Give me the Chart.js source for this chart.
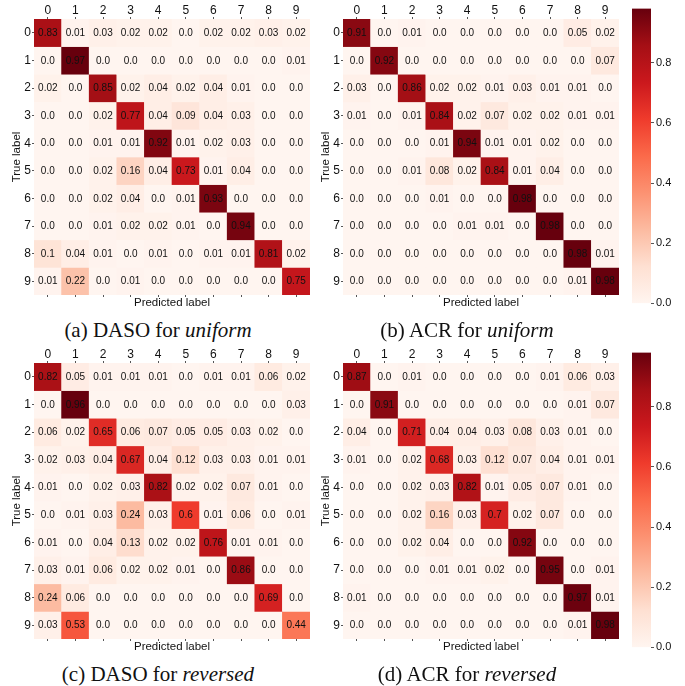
<!DOCTYPE html>
<html>
<head>
<meta charset="utf-8">
<script src="https://cdn.jsdelivr.net/npm/chart.js@4.4.0/dist/chart.umd.min.js"></script>
<style>
    body { margin: 0; background: #fff; }
    #page { position: relative; width: 685px; height: 686px; overflow: hidden; }
    canvas { position: absolute; }
    .caption {
        position: absolute;
        width: 320px;
        text-align: center;
        font-family: "Liberation Serif", "Times New Roman", serif;
        font-size: 21px;
        line-height: 24px;
        color: #111;
        white-space: nowrap;
    }
</style>
</head>
<body>
<div id="page">
    <canvas id="chart-a" width="312" height="310" style="left:0px;top:0px;width:312px;height:310px"></canvas>
    <canvas id="chart-b" width="312" height="310" style="left:309px;top:0px;width:312px;height:310px"></canvas>
    <canvas id="bar-top" width="65" height="312" style="left:620px;top:0px;width:65px;height:312px"></canvas>
    <canvas id="chart-c" width="312" height="310" style="left:0px;top:344px;width:312px;height:310px"></canvas>
    <canvas id="chart-d" width="312" height="310" style="left:309px;top:344px;width:312px;height:310px"></canvas>
    <canvas id="bar-bottom" width="65" height="312" style="left:620px;top:344px;width:65px;height:312px"></canvas>

    <div class="caption" style="left:-2px;top:318px">(a) DASO for <i>uniform</i></div>
    <div class="caption" style="left:307px;top:318px">(b) ACR for <i>uniform</i></div>
    <div class="caption" style="left:-2px;top:662px">(c) DASO for <i>reversed</i></div>
    <div class="caption" style="left:307px;top:662px">(d) ACR for <i>reversed</i></div>
</div>

<script>
// --- data --- //
const classes = ["0", "1", "2", "3", "4", "5", "6", "7", "8", "9"];
const colorbarTicks = [0.0, 0.2, 0.4, 0.6, 0.8];

// rows = true label, columns = predicted label
const dasoUniform = [
    [0.83, 0.01, 0.03, 0.02, 0.02, 0.0, 0.02, 0.02, 0.03, 0.02],
    [0.0, 0.97, 0.0, 0.0, 0.0, 0.0, 0.0, 0.0, 0.0, 0.01],
    [0.02, 0.0, 0.85, 0.02, 0.04, 0.02, 0.04, 0.01, 0.0, 0.0],
    [0.0, 0.0, 0.02, 0.77, 0.04, 0.09, 0.04, 0.03, 0.0, 0.0],
    [0.0, 0.0, 0.01, 0.01, 0.92, 0.01, 0.02, 0.03, 0.0, 0.0],
    [0.0, 0.0, 0.02, 0.16, 0.04, 0.73, 0.01, 0.04, 0.0, 0.0],
    [0.0, 0.0, 0.02, 0.04, 0.0, 0.01, 0.93, 0.0, 0.0, 0.0],
    [0.0, 0.0, 0.01, 0.02, 0.02, 0.01, 0.0, 0.94, 0.0, 0.0],
    [0.1, 0.04, 0.01, 0.0, 0.01, 0.0, 0.01, 0.01, 0.81, 0.02],
    [0.01, 0.22, 0.0, 0.01, 0.0, 0.0, 0.0, 0.0, 0.0, 0.75]
];

const acrUniform = [
    [0.91, 0.0, 0.01, 0.0, 0.0, 0.0, 0.0, 0.0, 0.05, 0.02],
    [0.0, 0.92, 0.0, 0.0, 0.0, 0.0, 0.0, 0.0, 0.0, 0.07],
    [0.03, 0.0, 0.86, 0.02, 0.02, 0.01, 0.03, 0.01, 0.01, 0.0],
    [0.01, 0.0, 0.01, 0.84, 0.02, 0.07, 0.02, 0.02, 0.01, 0.01],
    [0.0, 0.0, 0.0, 0.01, 0.94, 0.01, 0.01, 0.02, 0.0, 0.0],
    [0.0, 0.0, 0.01, 0.08, 0.02, 0.84, 0.01, 0.04, 0.0, 0.0],
    [0.0, 0.0, 0.0, 0.01, 0.0, 0.0, 0.98, 0.0, 0.0, 0.0],
    [0.0, 0.0, 0.0, 0.0, 0.01, 0.01, 0.0, 0.98, 0.0, 0.0],
    [0.0, 0.0, 0.0, 0.0, 0.0, 0.0, 0.0, 0.0, 0.98, 0.01],
    [0.0, 0.0, 0.0, 0.0, 0.0, 0.0, 0.0, 0.0, 0.01, 0.98]
];

const dasoReversed = [
    [0.82, 0.05, 0.01, 0.01, 0.01, 0.0, 0.01, 0.01, 0.06, 0.02],
    [0.0, 0.96, 0.0, 0.0, 0.0, 0.0, 0.0, 0.0, 0.0, 0.03],
    [0.06, 0.02, 0.65, 0.06, 0.07, 0.05, 0.05, 0.03, 0.02, 0.0],
    [0.02, 0.03, 0.04, 0.67, 0.04, 0.12, 0.03, 0.03, 0.01, 0.01],
    [0.01, 0.0, 0.02, 0.03, 0.82, 0.02, 0.02, 0.07, 0.01, 0.0],
    [0.0, 0.01, 0.03, 0.24, 0.03, 0.6, 0.01, 0.06, 0.0, 0.01],
    [0.01, 0.0, 0.04, 0.13, 0.02, 0.02, 0.76, 0.01, 0.01, 0.0],
    [0.03, 0.01, 0.06, 0.02, 0.02, 0.01, 0.0, 0.86, 0.0, 0.0],
    [0.24, 0.06, 0.0, 0.0, 0.0, 0.0, 0.0, 0.0, 0.69, 0.0],
    [0.03, 0.53, 0.0, 0.0, 0.0, 0.0, 0.0, 0.0, 0.0, 0.44]
];

const acrReversed = [
    [0.87, 0.0, 0.01, 0.0, 0.0, 0.0, 0.0, 0.01, 0.06, 0.03],
    [0.0, 0.91, 0.0, 0.0, 0.0, 0.0, 0.0, 0.0, 0.01, 0.07],
    [0.04, 0.0, 0.71, 0.04, 0.04, 0.03, 0.08, 0.03, 0.01, 0.0],
    [0.01, 0.0, 0.02, 0.68, 0.03, 0.12, 0.07, 0.04, 0.01, 0.01],
    [0.0, 0.0, 0.02, 0.03, 0.82, 0.01, 0.05, 0.07, 0.01, 0.0],
    [0.0, 0.0, 0.02, 0.16, 0.03, 0.7, 0.02, 0.07, 0.0, 0.0],
    [0.0, 0.0, 0.02, 0.04, 0.0, 0.0, 0.92, 0.0, 0.0, 0.0],
    [0.0, 0.0, 0.0, 0.01, 0.01, 0.02, 0.0, 0.95, 0.0, 0.01],
    [0.01, 0.0, 0.0, 0.0, 0.0, 0.0, 0.0, 0.0, 0.97, 0.01],
    [0.0, 0.0, 0.0, 0.0, 0.0, 0.0, 0.0, 0.0, 0.01, 0.98]
];

// --- "Reds" colour map (colorbrewer stops) --- //
const redsStops = ["#fff5f0", "#fee0d2", "#fcbba1", "#fc9272", "#fb6a4a", "#ef3b2c", "#cb181d", "#a50f15", "#67000d"];

const hexToRgb = hex => [1, 3, 5].map(i => parseInt(hex.substr(i, 2), 16));

const reds = t => {
    t = Math.max(0, Math.min(1, t));
    const pos = t * (redsStops.length - 1);
    const i = Math.min(Math.floor(pos), redsStops.length - 2);
    const f = pos - i;
    const a = hexToRgb(redsStops[i]);
    const b = hexToRgb(redsStops[i + 1]);
    const c = a.map((v, k) => Math.round(v + (b[k] - v) * f));
    return `rgb(${c[0]}, ${c[1]}, ${c[2]})`;
};

const fmt = v => Number.isInteger(Math.round(v * 100) / 10) ? v.toFixed(1) : v.toFixed(2);

const sansFont = "'Liberation Sans', Arial, Helvetica, sans-serif";
const tickColor = "#555";

// --- plugin: write the value in each cell --- //
const cellText = {
    id: "cellText",
    afterDatasetsDraw(chart) {
        const ctx = chart.ctx;
        const matrix = chart.config.options.plugins.cellText.matrix;
        ctx.save();
        ctx.font = "10px " + sansFont;
        ctx.fillStyle = "#111";
        ctx.textAlign = "center";
        ctx.textBaseline = "middle";
        chart.data.datasets.forEach((ds, r) => {
            chart.getDatasetMeta(r).data.forEach((bar, c) => {
                const p = bar.getCenterPoint();
                ctx.fillText(fmt(matrix[r][c]), p.x, p.y + 0.5);
            });
        });
        ctx.restore();
    }
};

// --- heatmap built from floating bars --- //
const buildHeatmap = (canvasId, matrix) => {
    const vmax = Math.max(...matrix.flat());
    const datasets = matrix.map((row, r) => ({
        data: row.map(() => [r, r + 1]),
        backgroundColor: ctx => reds(row[ctx.dataIndex] / vmax),
        borderWidth: 0,
        grouped: false,
        barPercentage: 1,
        categoryPercentage: 1
    }));

    return new Chart(document.getElementById(canvasId), {
        type: "bar",
        data: { labels: classes, datasets: datasets },
        plugins: [cellText],
        options: {
            responsive: false,
            animation: false,
            layout: { padding: { left: 10, right: 2, top: 0, bottom: 0 } },
            plugins: {
                legend: { display: false },
                tooltip: { enabled: false },
                cellText: { matrix: matrix }
            },
            scales: {
                x: {
                    type: "category",
                    position: "top",
                    offset: true,
                    grid: { offset: false, drawOnChartArea: false, tickLength: 2, color: tickColor },
                    border: { display: false },
                    ticks: { padding: -1, color: "#111", font: { family: sansFont, size: 12 } },
                    afterFit: scale => { scale.height = 19; }
                },
                x2: {
                    type: "category",
                    position: "bottom",
                    labels: classes,
                    offset: true,
                    grid: { offset: false, drawOnChartArea: false, tickLength: 2, color: tickColor },
                    border: { display: false },
                    ticks: { callback: () => "", padding: 0 },
                    title: {
                        display: true,
                        text: "Predicted label",
                        color: "#111",
                        padding: 0,
                        font: { family: sansFont, size: 11.5 }
                    },
                    afterFit: scale => { scale.height = 15; }
                },
                y: {
                    type: "linear",
                    min: 0,
                    max: classes.length,
                    reverse: true,
                    grid: { drawOnChartArea: false, tickLength: 2, color: tickColor },
                    border: { display: false },
                    ticks: {
                        padding: 1,
                        color: "#111",
                        font: { family: sansFont, size: 12 },
                        callback: v => classes[Math.floor(v)]
                    },
                    afterBuildTicks: scale => {
                        scale.ticks = classes.map((c, i) => ({ value: i + 0.5 }));
                    },
                    title: {
                        display: true,
                        text: "True label",
                        color: "#111",
                        padding: 0,
                        font: { family: sansFont, size: 11.5 }
                    },
                    afterFit: scale => { scale.width = 24; }
                }
            }
        }
    });
};

// --- colour bar --- //
const buildColorbar = (canvasId, matrix) => {
    const vmax = Math.max(...matrix.flat());
    return new Chart(document.getElementById(canvasId), {
        type: "bar",
        data: {
            labels: [""],
            datasets: [{
                data: [[0, vmax]],
                barPercentage: 1,
                categoryPercentage: 1,
                borderWidth: 0,
                backgroundColor: ctx => {
                    const chart = ctx.chart;
                    if (!chart.chartArea) return redsStops[4];
                    const ys = chart.scales.y;
                    const g = chart.ctx.createLinearGradient(0, ys.getPixelForValue(0), 0, ys.getPixelForValue(vmax));
                    redsStops.forEach((col, i) => g.addColorStop(i / (redsStops.length - 1), col));
                    return g;
                }
            }]
        },
        options: {
            responsive: false,
            animation: false,
            layout: { padding: { left: 12, right: 0, top: 6, bottom: 6 } },
            plugins: { legend: { display: false }, tooltip: { enabled: false } },
            scales: {
                x: { display: false },
                y: {
                    position: "right",
                    min: 0,
                    max: vmax,
                    grid: { drawOnChartArea: false, tickLength: 3, color: tickColor },
                    border: { display: false },
                    ticks: {
                        padding: 2,
                        color: "#111",
                        font: { family: sansFont, size: 11 },
                        callback: v => v.toFixed(1)
                    },
                    afterBuildTicks: scale => {
                        scale.ticks = colorbarTicks.map(v => ({ value: v }));
                    },
                    afterFit: scale => { scale.width = 34; }
                }
            }
        }
    });
};

buildHeatmap("chart-a", dasoUniform);
buildHeatmap("chart-b", acrUniform);
buildColorbar("bar-top", acrUniform);
buildHeatmap("chart-c", dasoReversed);
buildHeatmap("chart-d", acrReversed);
buildColorbar("bar-bottom", acrReversed);
</script>
</body>
</html>
